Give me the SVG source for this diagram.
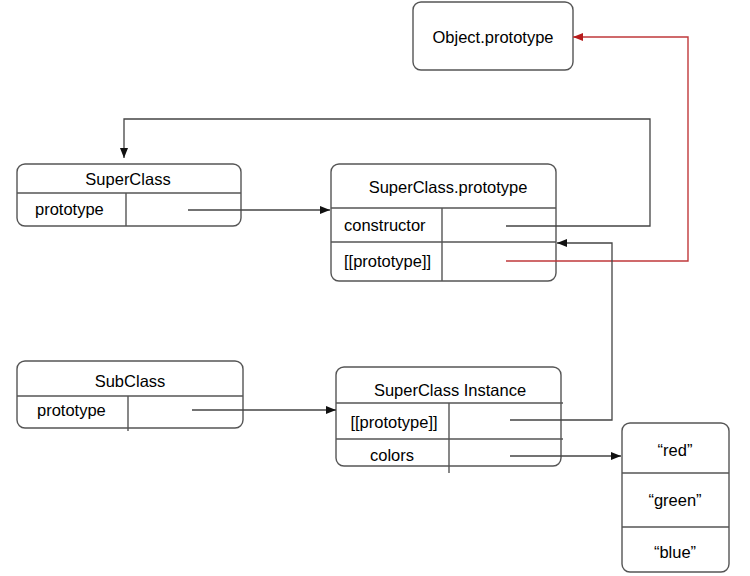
<svg xmlns="http://www.w3.org/2000/svg" width="750" height="576" viewBox="0 0 750 576">
<style>
.box{fill:#fff;stroke:#555;stroke-width:1.4}
.ln{fill:none;stroke:#555;stroke-width:1.4}
.t{font-family:"Liberation Sans",Arial,sans-serif;font-size:16.5px;fill:#000}
.c{text-anchor:middle}
.conn{fill:none;stroke:#444;stroke-width:1.3}
.red{fill:none;stroke:#c0393b;stroke-width:1.4}
</style>
<defs>
<marker id="ah" viewBox="0 0 10 10" refX="10" refY="5" markerWidth="10" markerHeight="10" markerUnits="userSpaceOnUse" orient="auto">
<path d="M0,1 L10,5 L0,9 Z" fill="#111"/>
</marker>
<marker id="ahr" viewBox="0 0 10 10" refX="10" refY="5" markerWidth="10" markerHeight="10" markerUnits="userSpaceOnUse" orient="auto">
<path d="M0,1 L10,5 L0,9 Z" fill="#b71c1c"/>
</marker>
</defs>
<rect width="750" height="576" fill="#fff"/>
<g id="object-prototype">
<rect class="box" x="413" y="2" width="160" height="68" rx="8"/>
<text class="t c" x="493" y="43">Object.prototype</text>
</g>
<g id="superclass">
<rect class="box" x="17" y="164" width="224" height="62" rx="8"/>
<line class="ln" x1="17" y1="193" x2="241" y2="193"/>
<line class="ln" x1="126" y1="193" x2="126" y2="226"/>
<text class="t c" x="128" y="185">SuperClass</text>
<text class="t" x="35" y="215">prototype</text>
</g>
<g id="superclass-prototype">
<rect class="box" x="331" y="164" width="225" height="117" rx="8"/>
<line class="ln" x1="331" y1="208" x2="556" y2="208"/>
<line class="ln" x1="331" y1="242" x2="556" y2="242"/>
<line class="ln" x1="442" y1="208" x2="442" y2="281"/>
<text class="t c" x="448" y="193">SuperClass.prototype</text>
<text class="t" x="344" y="231">constructor</text>
<text class="t" x="344" y="267">[[prototype]]</text>
</g>
<g id="subclass">
<rect class="box" x="17" y="361" width="226" height="67" rx="8"/>
<line class="ln" x1="17" y1="396" x2="243" y2="396"/>
<line class="ln" x1="128" y1="396" x2="128" y2="431"/>
<text class="t c" x="130" y="387">SubClass</text>
<text class="t" x="37" y="416">prototype</text>
</g>
<g id="superclass-instance">
<rect class="box" x="336" y="367" width="225" height="99" rx="8"/>
<line class="ln" x1="336" y1="403" x2="563" y2="403"/>
<line class="ln" x1="336" y1="439" x2="563" y2="439"/>
<line class="ln" x1="449" y1="403" x2="449" y2="473"/>
<text class="t c" x="450" y="396">SuperClass Instance</text>
<text class="t c" x="394" y="428">[[prototype]]</text>
<text class="t c" x="392" y="461">colors</text>
</g>
<g id="colors-array">
<rect class="box" x="622" y="423" width="107" height="149" rx="8"/>
<line class="ln" x1="622" y1="473" x2="729" y2="473"/>
<line class="ln" x1="622" y1="527" x2="729" y2="527"/>
<text class="t c" x="675" y="456">“red”</text>
<text class="t c" x="675" y="506">“green”</text>
<text class="t c" x="675" y="558">“blue”</text>
</g>
<g id="connectors">
<path class="conn" d="M188,210 H330" marker-end="url(#ah)"/>
<path class="conn" d="M506,226 H650 V119 H124 V158" marker-end="url(#ah)"/>
<path class="red" d="M506,261 H688 V37 H573" marker-end="url(#ahr)"/>
<path class="conn" d="M510,420 H612 V243 H557" marker-end="url(#ah)"/>
<path class="conn" d="M192,410 H336" marker-end="url(#ah)"/>
<path class="conn" d="M510,456 H621" marker-end="url(#ah)"/>
</g>
</svg>
